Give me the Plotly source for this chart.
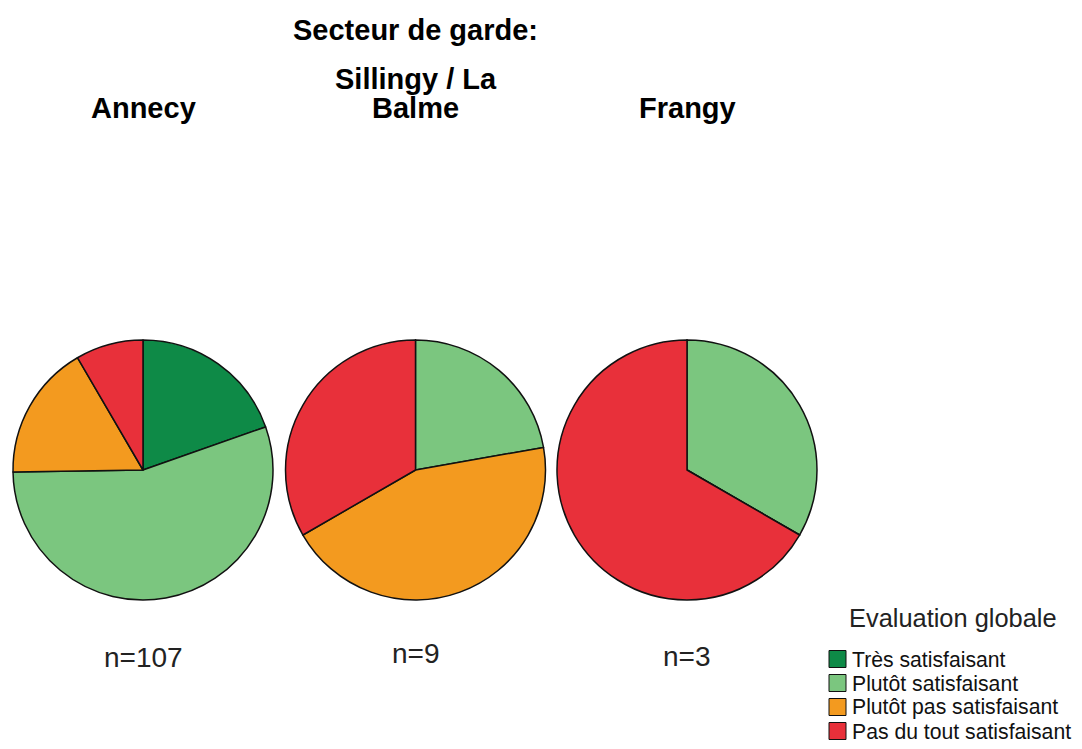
import plotly.graph_objects as go

W, H = 1082, 749
OFF = 8  # page body margin
FW, FH = W - OFF, H - OFF  # figure size fitting inside the window

categories = ["Très satisfaisant", "Plutôt satisfaisant", "Plutôt pas satisfaisant", "Pas du tout satisfaisant"]
colors = ["#0E8A47", "#7BC67F", "#F39A1F", "#E8303A"]
sectors = ["Annecy", "Sillingy / La<br>Balme", "Frangy"]
annecy = [21, 59, 18, 9]
sillingy = [0, 2, 4, 3]
frangy = [0, 1, 0, 2]
values = [annecy, sillingy, frangy]
main_title = "Secteur de garde:"
legend_title = "Evaluation globale"

def px(x):
    return (x - OFF) / FW

def py(y):
    return 1 - (y - OFF) / FH

centers = [143, 415.5, 687]
radius = 130
pie_top, pie_bottom = 340, 600

fig = go.Figure()
for i, vals in enumerate(values):
    cx = centers[i]
    fig.add_trace(go.Pie(
        labels=categories,
        values=vals,
        sort=False,
        direction="clockwise",
        rotation=0,
        textinfo="none",
        marker=dict(colors=colors, line=dict(color="#111111", width=1.5)),
        domain=dict(x=[px(cx - radius), px(cx + radius)], y=[py(pie_bottom), py(pie_top)]),
        showlegend=False,
        hoverinfo="label+value+percent",
    ))

annotations = []
FONT = "Liberation Sans, Arial, sans-serif"
bold_font = dict(family=FONT, size=29, color="#000000")
annotations.append(dict(text="<b>" + main_title + "</b>", x=px(415), y=py(30), xref="paper", yref="paper",
                        showarrow=False, xanchor="center", yanchor="middle", font=bold_font))
line_gap = 29
for i, s in enumerate(sectors):
    lines = s.split("<br>")
    y_last = 108
    for j, ln in enumerate(lines):
        yy = y_last - (len(lines) - 1 - j) * line_gap
        annotations.append(dict(text="<b>" + ln + "</b>", x=px(centers[i]), y=py(yy), xref="paper", yref="paper",
                                showarrow=False, xanchor="center", yanchor="middle", font=bold_font))
n_y = [657, 653, 656]
for i, vals in enumerate(values):
    annotations.append(dict(text="n=" + str(sum(vals)), x=px(centers[i]), y=py(n_y[i]), xref="paper", yref="paper",
                            showarrow=False, xanchor="center", yanchor="middle",
                            font=dict(family=FONT, size=28, color="#222222")))

# legend
annotations.append(dict(text=legend_title, x=px(953), y=py(618), xref="paper", yref="paper",
                        showarrow=False, xanchor="center", yanchor="middle",
                        font=dict(family=FONT, size=25.4, color="#222222")))
shapes = []
row_y = [659, 683, 707, 731]
for i, cat in enumerate(categories):
    cy = row_y[i]
    shapes.append(dict(type="rect", xref="paper", yref="paper",
                       x0=px(829), x1=px(846), y0=py(cy + 8.5), y1=py(cy - 8.5),
                       fillcolor=colors[i], line=dict(color="#111111", width=1)))
    annotations.append(dict(text=cat, x=px(850), y=py(cy), xref="paper", yref="paper",
                            showarrow=False, xanchor="left", yanchor="middle",
                            font=dict(family=FONT, size=21.2, color="#111111")))

fig.update_layout(
    width=FW, height=FH,
    margin=dict(l=0, r=0, t=0, b=0),
    paper_bgcolor="white", plot_bgcolor="white",
    annotations=annotations, shapes=shapes,
    showlegend=False,
)

fig.write_html("out.html")
